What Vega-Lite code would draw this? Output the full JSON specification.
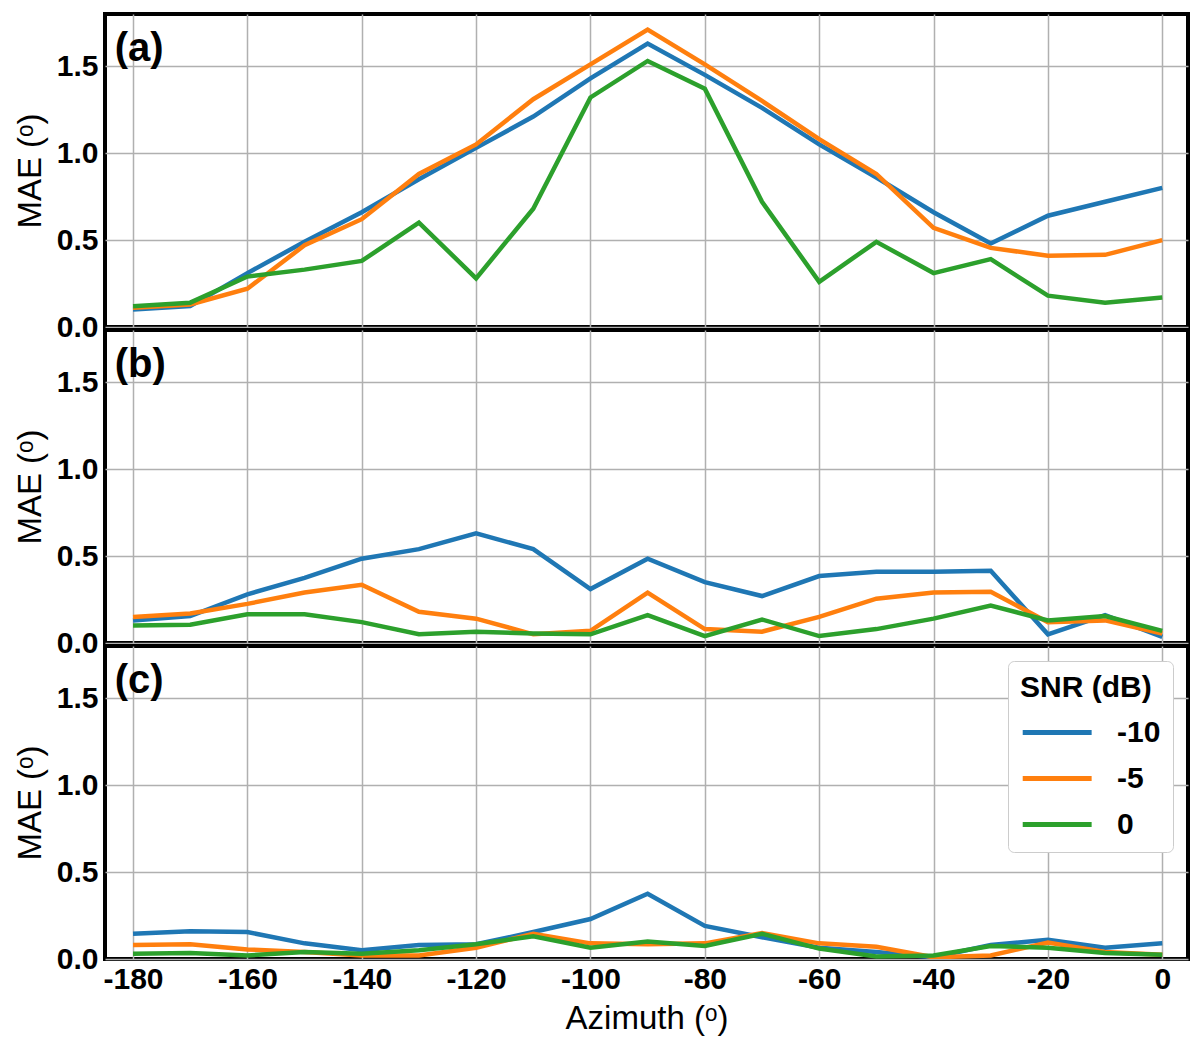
{
  "$schema": "https://vega.github.io/schema/vega-lite/v6.json",
  "padding": {"left": 12, "top": 12, "right": 5, "bottom": 5},
  "background": "white",
  "bounds": "flush",
  "datasets": {
    "mae": [
      {"panel": "a", "snr": "-10", "azimuth": -180, "mae": 0.10},
      {"panel": "a", "snr": "-10", "azimuth": -170, "mae": 0.12},
      {"panel": "a", "snr": "-10", "azimuth": -160, "mae": 0.31},
      {"panel": "a", "snr": "-10", "azimuth": -150, "mae": 0.49},
      {"panel": "a", "snr": "-10", "azimuth": -140, "mae": 0.66},
      {"panel": "a", "snr": "-10", "azimuth": -130, "mae": 0.85},
      {"panel": "a", "snr": "-10", "azimuth": -120, "mae": 1.03},
      {"panel": "a", "snr": "-10", "azimuth": -110, "mae": 1.21},
      {"panel": "a", "snr": "-10", "azimuth": -100, "mae": 1.43},
      {"panel": "a", "snr": "-10", "azimuth": -90, "mae": 1.63},
      {"panel": "a", "snr": "-10", "azimuth": -80, "mae": 1.45},
      {"panel": "a", "snr": "-10", "azimuth": -70, "mae": 1.26},
      {"panel": "a", "snr": "-10", "azimuth": -60, "mae": 1.05},
      {"panel": "a", "snr": "-10", "azimuth": -50, "mae": 0.86},
      {"panel": "a", "snr": "-10", "azimuth": -40, "mae": 0.66},
      {"panel": "a", "snr": "-10", "azimuth": -30, "mae": 0.48},
      {"panel": "a", "snr": "-10", "azimuth": -20, "mae": 0.64},
      {"panel": "a", "snr": "-10", "azimuth": -10, "mae": 0.72},
      {"panel": "a", "snr": "-10", "azimuth": 0, "mae": 0.80},
      {"panel": "a", "snr": "-5", "azimuth": -180, "mae": 0.11},
      {"panel": "a", "snr": "-5", "azimuth": -170, "mae": 0.13},
      {"panel": "a", "snr": "-5", "azimuth": -160, "mae": 0.22},
      {"panel": "a", "snr": "-5", "azimuth": -150, "mae": 0.47},
      {"panel": "a", "snr": "-5", "azimuth": -140, "mae": 0.62},
      {"panel": "a", "snr": "-5", "azimuth": -130, "mae": 0.88},
      {"panel": "a", "snr": "-5", "azimuth": -120, "mae": 1.05},
      {"panel": "a", "snr": "-5", "azimuth": -110, "mae": 1.31},
      {"panel": "a", "snr": "-5", "azimuth": -100, "mae": 1.51},
      {"panel": "a", "snr": "-5", "azimuth": -90, "mae": 1.71},
      {"panel": "a", "snr": "-5", "azimuth": -80, "mae": 1.51},
      {"panel": "a", "snr": "-5", "azimuth": -70, "mae": 1.30},
      {"panel": "a", "snr": "-5", "azimuth": -60, "mae": 1.08},
      {"panel": "a", "snr": "-5", "azimuth": -50, "mae": 0.88},
      {"panel": "a", "snr": "-5", "azimuth": -40, "mae": 0.57},
      {"panel": "a", "snr": "-5", "azimuth": -30, "mae": 0.455},
      {"panel": "a", "snr": "-5", "azimuth": -20, "mae": 0.41},
      {"panel": "a", "snr": "-5", "azimuth": -10, "mae": 0.415},
      {"panel": "a", "snr": "-5", "azimuth": 0, "mae": 0.50},
      {"panel": "a", "snr": "0", "azimuth": -180, "mae": 0.12},
      {"panel": "a", "snr": "0", "azimuth": -170, "mae": 0.14},
      {"panel": "a", "snr": "0", "azimuth": -160, "mae": 0.29},
      {"panel": "a", "snr": "0", "azimuth": -150, "mae": 0.33},
      {"panel": "a", "snr": "0", "azimuth": -140, "mae": 0.38},
      {"panel": "a", "snr": "0", "azimuth": -130, "mae": 0.60},
      {"panel": "a", "snr": "0", "azimuth": -120, "mae": 0.28},
      {"panel": "a", "snr": "0", "azimuth": -110, "mae": 0.68},
      {"panel": "a", "snr": "0", "azimuth": -100, "mae": 1.32},
      {"panel": "a", "snr": "0", "azimuth": -90, "mae": 1.53},
      {"panel": "a", "snr": "0", "azimuth": -80, "mae": 1.37},
      {"panel": "a", "snr": "0", "azimuth": -70, "mae": 0.72},
      {"panel": "a", "snr": "0", "azimuth": -60, "mae": 0.26},
      {"panel": "a", "snr": "0", "azimuth": -50, "mae": 0.49},
      {"panel": "a", "snr": "0", "azimuth": -40, "mae": 0.31},
      {"panel": "a", "snr": "0", "azimuth": -30, "mae": 0.39},
      {"panel": "a", "snr": "0", "azimuth": -20, "mae": 0.18},
      {"panel": "a", "snr": "0", "azimuth": -10, "mae": 0.14},
      {"panel": "a", "snr": "0", "azimuth": 0, "mae": 0.17},
      {"panel": "b", "snr": "-10", "azimuth": -180, "mae": 0.13},
      {"panel": "b", "snr": "-10", "azimuth": -170, "mae": 0.155},
      {"panel": "b", "snr": "-10", "azimuth": -160, "mae": 0.28},
      {"panel": "b", "snr": "-10", "azimuth": -150, "mae": 0.375},
      {"panel": "b", "snr": "-10", "azimuth": -140, "mae": 0.485},
      {"panel": "b", "snr": "-10", "azimuth": -130, "mae": 0.54},
      {"panel": "b", "snr": "-10", "azimuth": -120, "mae": 0.63},
      {"panel": "b", "snr": "-10", "azimuth": -110, "mae": 0.54},
      {"panel": "b", "snr": "-10", "azimuth": -100, "mae": 0.31},
      {"panel": "b", "snr": "-10", "azimuth": -90, "mae": 0.485},
      {"panel": "b", "snr": "-10", "azimuth": -80, "mae": 0.35},
      {"panel": "b", "snr": "-10", "azimuth": -70, "mae": 0.27},
      {"panel": "b", "snr": "-10", "azimuth": -60, "mae": 0.385},
      {"panel": "b", "snr": "-10", "azimuth": -50, "mae": 0.41},
      {"panel": "b", "snr": "-10", "azimuth": -40, "mae": 0.41},
      {"panel": "b", "snr": "-10", "azimuth": -30, "mae": 0.415},
      {"panel": "b", "snr": "-10", "azimuth": -20, "mae": 0.05},
      {"panel": "b", "snr": "-10", "azimuth": -10, "mae": 0.16},
      {"panel": "b", "snr": "-10", "azimuth": 0, "mae": 0.035},
      {"panel": "b", "snr": "-5", "azimuth": -180, "mae": 0.15},
      {"panel": "b", "snr": "-5", "azimuth": -170, "mae": 0.17},
      {"panel": "b", "snr": "-5", "azimuth": -160, "mae": 0.225},
      {"panel": "b", "snr": "-5", "azimuth": -150, "mae": 0.29},
      {"panel": "b", "snr": "-5", "azimuth": -140, "mae": 0.335},
      {"panel": "b", "snr": "-5", "azimuth": -130, "mae": 0.18},
      {"panel": "b", "snr": "-5", "azimuth": -120, "mae": 0.14},
      {"panel": "b", "snr": "-5", "azimuth": -110, "mae": 0.05},
      {"panel": "b", "snr": "-5", "azimuth": -100, "mae": 0.07},
      {"panel": "b", "snr": "-5", "azimuth": -90, "mae": 0.29},
      {"panel": "b", "snr": "-5", "azimuth": -80, "mae": 0.08},
      {"panel": "b", "snr": "-5", "azimuth": -70, "mae": 0.065},
      {"panel": "b", "snr": "-5", "azimuth": -60, "mae": 0.15},
      {"panel": "b", "snr": "-5", "azimuth": -50, "mae": 0.255},
      {"panel": "b", "snr": "-5", "azimuth": -40, "mae": 0.29},
      {"panel": "b", "snr": "-5", "azimuth": -30, "mae": 0.295},
      {"panel": "b", "snr": "-5", "azimuth": -20, "mae": 0.12},
      {"panel": "b", "snr": "-5", "azimuth": -10, "mae": 0.13},
      {"panel": "b", "snr": "-5", "azimuth": 0, "mae": 0.055},
      {"panel": "b", "snr": "0", "azimuth": -180, "mae": 0.10},
      {"panel": "b", "snr": "0", "azimuth": -170, "mae": 0.105},
      {"panel": "b", "snr": "0", "azimuth": -160, "mae": 0.165},
      {"panel": "b", "snr": "0", "azimuth": -150, "mae": 0.165},
      {"panel": "b", "snr": "0", "azimuth": -140, "mae": 0.12},
      {"panel": "b", "snr": "0", "azimuth": -130, "mae": 0.05},
      {"panel": "b", "snr": "0", "azimuth": -120, "mae": 0.065},
      {"panel": "b", "snr": "0", "azimuth": -110, "mae": 0.055},
      {"panel": "b", "snr": "0", "azimuth": -100, "mae": 0.05},
      {"panel": "b", "snr": "0", "azimuth": -90, "mae": 0.16},
      {"panel": "b", "snr": "0", "azimuth": -80, "mae": 0.04},
      {"panel": "b", "snr": "0", "azimuth": -70, "mae": 0.135},
      {"panel": "b", "snr": "0", "azimuth": -60, "mae": 0.04},
      {"panel": "b", "snr": "0", "azimuth": -50, "mae": 0.08},
      {"panel": "b", "snr": "0", "azimuth": -40, "mae": 0.14},
      {"panel": "b", "snr": "0", "azimuth": -30, "mae": 0.215},
      {"panel": "b", "snr": "0", "azimuth": -20, "mae": 0.13},
      {"panel": "b", "snr": "0", "azimuth": -10, "mae": 0.155},
      {"panel": "b", "snr": "0", "azimuth": 0, "mae": 0.07},
      {"panel": "c", "snr": "-10", "azimuth": -180, "mae": 0.145},
      {"panel": "c", "snr": "-10", "azimuth": -170, "mae": 0.16},
      {"panel": "c", "snr": "-10", "azimuth": -160, "mae": 0.155},
      {"panel": "c", "snr": "-10", "azimuth": -150, "mae": 0.09},
      {"panel": "c", "snr": "-10", "azimuth": -140, "mae": 0.05},
      {"panel": "c", "snr": "-10", "azimuth": -130, "mae": 0.08},
      {"panel": "c", "snr": "-10", "azimuth": -120, "mae": 0.085},
      {"panel": "c", "snr": "-10", "azimuth": -110, "mae": 0.155},
      {"panel": "c", "snr": "-10", "azimuth": -100, "mae": 0.23},
      {"panel": "c", "snr": "-10", "azimuth": -90, "mae": 0.375},
      {"panel": "c", "snr": "-10", "azimuth": -80, "mae": 0.19},
      {"panel": "c", "snr": "-10", "azimuth": -70, "mae": 0.125},
      {"panel": "c", "snr": "-10", "azimuth": -60, "mae": 0.065},
      {"panel": "c", "snr": "-10", "azimuth": -50, "mae": 0.04},
      {"panel": "c", "snr": "-10", "azimuth": -40, "mae": 0.01},
      {"panel": "c", "snr": "-10", "azimuth": -30, "mae": 0.08},
      {"panel": "c", "snr": "-10", "azimuth": -20, "mae": 0.11},
      {"panel": "c", "snr": "-10", "azimuth": -10, "mae": 0.065},
      {"panel": "c", "snr": "-10", "azimuth": 0, "mae": 0.09},
      {"panel": "c", "snr": "-5", "azimuth": -180, "mae": 0.08},
      {"panel": "c", "snr": "-5", "azimuth": -170, "mae": 0.085},
      {"panel": "c", "snr": "-5", "azimuth": -160, "mae": 0.055},
      {"panel": "c", "snr": "-5", "azimuth": -150, "mae": 0.04},
      {"panel": "c", "snr": "-5", "azimuth": -140, "mae": 0.02},
      {"panel": "c", "snr": "-5", "azimuth": -130, "mae": 0.02},
      {"panel": "c", "snr": "-5", "azimuth": -120, "mae": 0.065},
      {"panel": "c", "snr": "-5", "azimuth": -110, "mae": 0.145},
      {"panel": "c", "snr": "-5", "azimuth": -100, "mae": 0.09},
      {"panel": "c", "snr": "-5", "azimuth": -90, "mae": 0.085},
      {"panel": "c", "snr": "-5", "azimuth": -80, "mae": 0.09},
      {"panel": "c", "snr": "-5", "azimuth": -70, "mae": 0.15},
      {"panel": "c", "snr": "-5", "azimuth": -60, "mae": 0.09},
      {"panel": "c", "snr": "-5", "azimuth": -50, "mae": 0.07},
      {"panel": "c", "snr": "-5", "azimuth": -40, "mae": 0.01},
      {"panel": "c", "snr": "-5", "azimuth": -30, "mae": 0.02},
      {"panel": "c", "snr": "-5", "azimuth": -20, "mae": 0.095},
      {"panel": "c", "snr": "-5", "azimuth": -10, "mae": 0.04},
      {"panel": "c", "snr": "-5", "azimuth": 0, "mae": 0.025},
      {"panel": "c", "snr": "0", "azimuth": -180, "mae": 0.03},
      {"panel": "c", "snr": "0", "azimuth": -170, "mae": 0.035},
      {"panel": "c", "snr": "0", "azimuth": -160, "mae": 0.02},
      {"panel": "c", "snr": "0", "azimuth": -150, "mae": 0.04},
      {"panel": "c", "snr": "0", "azimuth": -140, "mae": 0.03},
      {"panel": "c", "snr": "0", "azimuth": -130, "mae": 0.05},
      {"panel": "c", "snr": "0", "azimuth": -120, "mae": 0.085},
      {"panel": "c", "snr": "0", "azimuth": -110, "mae": 0.13},
      {"panel": "c", "snr": "0", "azimuth": -100, "mae": 0.065},
      {"panel": "c", "snr": "0", "azimuth": -90, "mae": 0.10},
      {"panel": "c", "snr": "0", "azimuth": -80, "mae": 0.075},
      {"panel": "c", "snr": "0", "azimuth": -70, "mae": 0.145},
      {"panel": "c", "snr": "0", "azimuth": -60, "mae": 0.06},
      {"panel": "c", "snr": "0", "azimuth": -50, "mae": 0.015},
      {"panel": "c", "snr": "0", "azimuth": -40, "mae": 0.02},
      {"panel": "c", "snr": "0", "azimuth": -30, "mae": 0.075},
      {"panel": "c", "snr": "0", "azimuth": -20, "mae": 0.065},
      {"panel": "c", "snr": "0", "azimuth": -10, "mae": 0.035},
      {"panel": "c", "snr": "0", "azimuth": 0, "mae": 0.025}
    ]
  },
  "spacing": 3,
  "resolve": {"legend": {"color": "independent"}},
  "vconcat": [
    {
      "width": 1083,
      "height": 313,
      "layer": [
        {
          "data": {"name": "mae"},
          "transform": [{"filter": "datum.panel === 'a'"}],
          "mark": {"type": "line", "strokeWidth": 4.5, "clip": true},
          "encoding": {
            "x": {"field": "azimuth", "type": "quantitative", "scale": {"domain": [-184.9, 4.5], "nice": false, "zero": false},
                  "axis": {"labels": false, "title": null, "values": [-180, -160, -140, -120, -100, -80, -60, -40, -20, 0]}},
            "y": {"field": "mae", "type": "quantitative", "scale": {"domain": [0, 1.8], "nice": false},
                  "axis": {"title": "MAE (ᵒ)", "values": [0, 0.5, 1, 1.5], "format": ".1f"}},
            "color": {"field": "snr", "type": "nominal", "sort": ["-10", "-5", "0"],
                      "scale": {"domain": ["-10", "-5", "0"], "range": ["#1f77b4", "#ff7f0e", "#2ca02c"]}, "legend": null}
          }
        },
        {
          "data": {"values": [{"label": "(a)"}]},
          "mark": {"type": "text", "align": "left", "baseline": "middle", "fontSize": 40, "fontWeight": "bold"},
          "encoding": {"text": {"field": "label"}, "x": {"datum": -183.2}, "y": {"datum": 1.6}}
        }
      ]
    },
    {
      "width": 1083,
      "height": 313,
      "layer": [
        {
          "data": {"name": "mae"},
          "transform": [{"filter": "datum.panel === 'b'"}],
          "mark": {"type": "line", "strokeWidth": 4.5, "clip": true},
          "encoding": {
            "x": {"field": "azimuth", "type": "quantitative", "scale": {"domain": [-184.9, 4.5], "nice": false, "zero": false},
                  "axis": {"labels": false, "title": null, "values": [-180, -160, -140, -120, -100, -80, -60, -40, -20, 0]}},
            "y": {"field": "mae", "type": "quantitative", "scale": {"domain": [0, 1.8], "nice": false},
                  "axis": {"title": "MAE (ᵒ)", "values": [0, 0.5, 1, 1.5], "format": ".1f"}},
            "color": {"field": "snr", "type": "nominal", "sort": ["-10", "-5", "0"],
                      "scale": {"domain": ["-10", "-5", "0"], "range": ["#1f77b4", "#ff7f0e", "#2ca02c"]}, "legend": null}
          }
        },
        {
          "data": {"values": [{"label": "(b)"}]},
          "mark": {"type": "text", "align": "left", "baseline": "middle", "fontSize": 40, "fontWeight": "bold"},
          "encoding": {"text": {"field": "label"}, "x": {"datum": -183.2}, "y": {"datum": 1.6}}
        }
      ]
    },
    {
      "width": 1083,
      "height": 313,
      "layer": [
        {
          "data": {"name": "mae"},
          "transform": [{"filter": "datum.panel === 'c'"}],
          "mark": {"type": "line", "strokeWidth": 4.5, "clip": true},
          "encoding": {
            "x": {"field": "azimuth", "type": "quantitative", "scale": {"domain": [-184.9, 4.5], "nice": false, "zero": false},
                  "axis": {"title": "Azimuth (ᵒ)", "labelExpr": "toString(datum.value)", "values": [-180, -160, -140, -120, -100, -80, -60, -40, -20, 0]}},
            "y": {"field": "mae", "type": "quantitative", "scale": {"domain": [0, 1.8], "nice": false},
                  "axis": {"title": "MAE (ᵒ)", "values": [0, 0.5, 1, 1.5], "format": ".1f"}},
            "color": {"field": "snr", "type": "nominal", "sort": ["-10", "-5", "0"],
                      "scale": {"domain": ["-10", "-5", "0"], "range": ["#1f77b4", "#ff7f0e", "#2ca02c"]},
                      "legend": {"title": "SNR (dB)", "orient": "top-right", "offset": 15}}
          }
        },
        {
          "data": {"values": [{"label": "(c)"}]},
          "mark": {"type": "text", "align": "left", "baseline": "middle", "fontSize": 40, "fontWeight": "bold"},
          "encoding": {"text": {"field": "label"}, "x": {"datum": -183.2}, "y": {"datum": 1.6}}
        }
      ]
    }
  ],
  "config": {
    "font": "Liberation Sans",
    "view": {"stroke": "black", "strokeWidth": 4},
    "axis": {
      "grid": true,
      "gridColor": "#b0b0b0",
      "gridWidth": 1.5,
      "domain": false,
      "ticks": false,
      "labelFont": "Liberation Sans",
      "labelFontSize": 30,
      "labelFontWeight": "bold",
      "labelColor": "black",
      "titleFont": "Liberation Sans",
      "titleFontSize": 33,
      "titleFontWeight": "normal",
      "titleColor": "black"
    },
    "axisY": {"labelPadding": 7, "titlePadding": 9},
    "axisX": {"labelPadding": 5, "titlePadding": 8},
    "legend": {
      "symbolType": "M-1,0H4",
      "symbolSize": 760,
      "symbolStrokeWidth": 5,
      "labelFont": "Liberation Sans",
      "labelFontSize": 30,
      "labelFontWeight": "bold",
      "labelColor": "black",
      "labelOffset": 64,
      "titleFont": "Liberation Sans",
      "titleFontSize": 30,
      "titleFontWeight": "bold",
      "titleColor": "black",
      "titlePadding": 13,
      "padding": 12,
      "rowPadding": 14,
      "fillColor": "white",
      "strokeColor": "#cccccc",
      "cornerRadius": 6
    }
  }
}
